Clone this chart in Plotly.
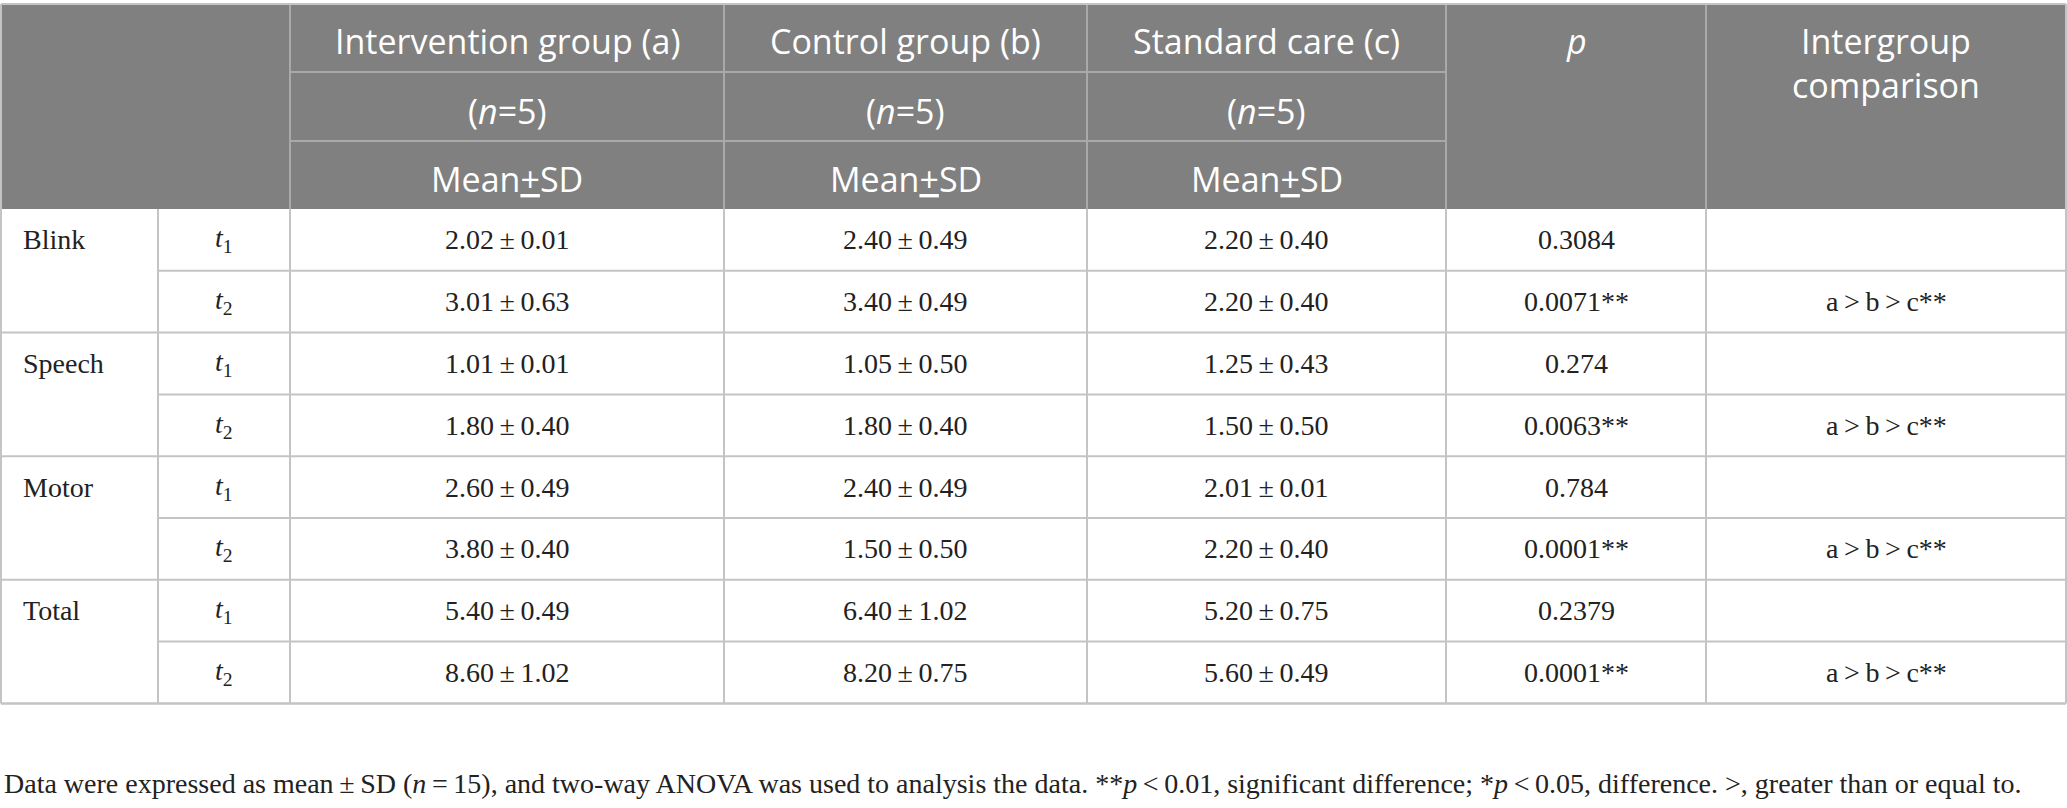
import plotly.graph_objects as go

# table contents
measures = ['Blink', 'Speech', 'Motor', 'Total']
time_points = ['1', '2']
group_titles = ['Intervention group (a)', 'Control group (b)', 'Standard care (c)']
group_n = [5, 5, 5]

intervention_mean = [2.02, 3.01, 1.01, 1.80, 2.60, 3.80, 5.40, 8.60]
intervention_sd = [0.01, 0.63, 0.01, 0.40, 0.49, 0.40, 0.49, 1.02]
control_mean = [2.40, 3.40, 1.05, 1.80, 2.40, 1.50, 6.40, 8.20]
control_sd = [0.49, 0.49, 0.50, 0.40, 0.49, 0.50, 1.02, 0.75]
standard_mean = [2.20, 2.20, 1.25, 1.50, 2.01, 2.20, 5.20, 5.60]
standard_sd = [0.40, 0.40, 0.43, 0.50, 0.01, 0.40, 0.75, 0.49]
p_values = ['0.3084', '0.0071**', '0.274', '0.0063**', '0.784', '0.0001**', '0.2379', '0.0001**']
comparison = ['', 'a > b > c**', '', 'a > b > c**', '', 'a > b > c**', '', 'a > b > c**']

caption = ('Data were expressed as mean\u2009±\u2009SD (<i>n</i>\u2009=\u200915), and two-way ANOVA was used '
           'to analysis the data. **<i>p</i>\u2009<\u20090.01, significant difference; *<i>p</i>\u2009<\u20090.05, '
           'difference. >, greater than or equal to.')

W, H = 2067, 808
col_x = [1, 158, 290, 724, 1087, 1446, 1706, 2066]
head_y = [4, 72, 141, 209]
row_h = 61.8

HEAD_BG = '#808080'
HEAD_LINE = '#a9a9a9'
GRID = '#c4c4c4'
SANS = 'Open Sans'
SERIF = 'Liberation Serif'

fig = go.Figure()
# invisible trace so the axes exist
fig.add_trace(go.Scatter(x=[0, W], y=[0, H], mode='markers', marker=dict(opacity=0), hoverinfo='skip', showlegend=False))

shapes = []
annots = []

def line(x0, y0, x1, y1, color=GRID, width=2):
    shapes.append(dict(type='line', xref='x', yref='y', x0=x0, y0=y0, x1=x1, y1=y1,
                       line=dict(color=color, width=width)))

def txt(x, y, s, size, color='#222', family=SERIF, xanchor='center'):
    annots.append(dict(x=x, y=y, xref='x', yref='y', text=s, showarrow=False,
                       xanchor=xanchor, yanchor='middle',
                       font=dict(size=size, color=color, family=family)))

# header block
shapes.append(dict(type='rect', xref='x', yref='y', x0=col_x[0], x1=col_x[-1], y0=head_y[0], y1=head_y[-1],
                   fillcolor=HEAD_BG, line=dict(width=0), layer='below'))
for yy in head_y[1:3]:
    line(col_x[2], yy, col_x[5], yy, HEAD_LINE, 2)
for xx in col_x[2:7]:
    line(xx, head_y[0], xx, head_y[-1], HEAD_LINE, 2)

n_rows = len(intervention_mean)
body_top = head_y[-1]
row_y = [body_top + i * row_h for i in range(n_rows + 1)]

# body grid
for i, yy in enumerate(row_y[1:], start=1):
    x_start = col_x[0] if i % 2 == 0 else col_x[1]
    line(x_start, yy, col_x[-1], yy)
for xx in col_x:
    line(xx, body_top, xx, row_y[-1])
line(col_x[0], head_y[0], col_x[-1], head_y[0])
line(col_x[0], head_y[0], col_x[0], head_y[-1])
line(col_x[-1], head_y[0], col_x[-1], head_y[-1])
line(col_x[0], row_y[-1], col_x[-1], row_y[-1])

# header text
HS = 34
for j, title in enumerate(group_titles):
    cx = (col_x[2 + j] + col_x[3 + j]) / 2
    txt(cx, 41, title, HS, 'white', SANS)
    txt(cx, 111, '(<i>n</i>=%d)' % group_n[j], HS, 'white', SANS)
    txt(cx, 179, 'Mean<u>+</u>SD', HS, 'white', SANS)
txt((col_x[5] + col_x[6]) / 2, 41, '<i>p</i>', HS, 'white', SANS)
txt((col_x[6] + col_x[7]) / 2, 63, 'Intergroup<br>comparison', HS, 'white', SANS)

# body text
BS = 28
groups = [(intervention_mean, intervention_sd), (control_mean, control_sd), (standard_mean, standard_sd)]
for i in range(n_rows):
    cy = (row_y[i] + row_y[i + 1]) / 2
    if i % 2 == 0:
        txt(col_x[0] + 20, cy, measures[i // 2], BS, xanchor='left')
    txt((col_x[1] + col_x[2]) / 2, cy, '<i>t</i><sub>%s</sub>' % time_points[i % 2], BS)
    for j, (m, s) in enumerate(groups):
        txt((col_x[2 + j] + col_x[3 + j]) / 2, cy, '%.2f\u2009±\u2009%.2f' % (m[i], s[i]), BS)
    txt((col_x[5] + col_x[6]) / 2, cy, p_values[i], BS)
    if comparison[i]:
        txt((col_x[6] + col_x[7]) / 2, cy, comparison[i].replace(' > ', '\u2009>\u2009'), BS)

txt(2, 783, caption, BS, xanchor='left')

fig.update_layout(
    width=W, height=H,
    margin=dict(l=0, r=0, t=0, b=0),
    paper_bgcolor='white', plot_bgcolor='white',
    xaxis=dict(range=[0, W], visible=False, fixedrange=True),
    yaxis=dict(range=[H, 0], visible=False, fixedrange=True),
    shapes=shapes, annotations=annots,
    showlegend=False,
)

# drop the browser's default 8px body margin so the figure fills the window
fig.write_html('out.html', config={'displayModeBar': False},
               post_script="document.body.style.margin='0';")
